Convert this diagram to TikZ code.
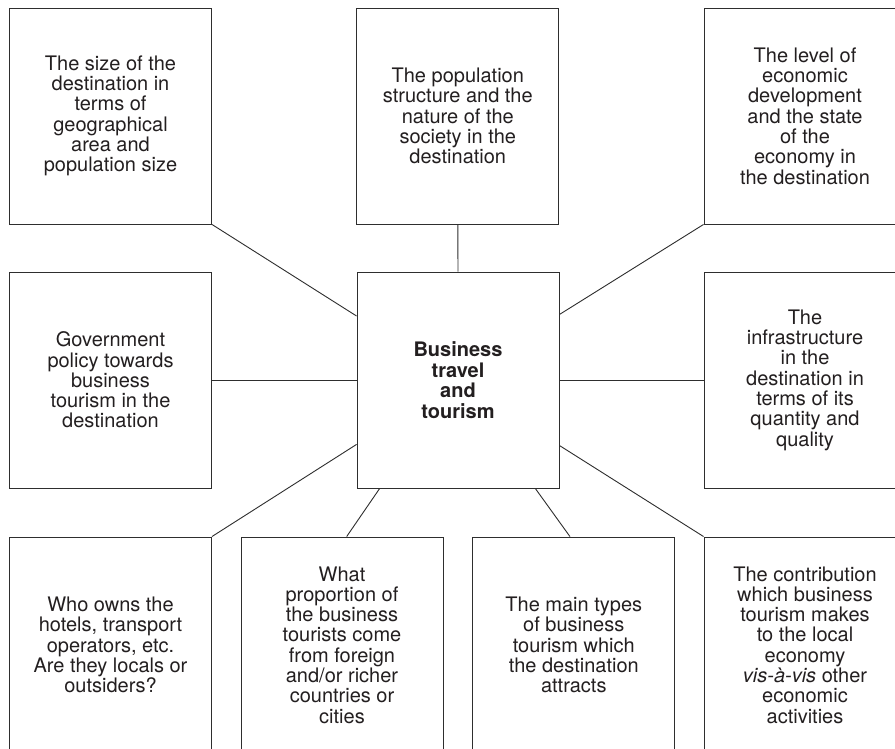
\documentclass[tikz,border=0pt]{standalone}
\usepackage{fontspec}
\setmainfont{TeX Gyre Heros}
\usetikzlibrary{calc}
\definecolor{ink}{HTML}{231F20}
\definecolor{edge}{HTML}{2E2E2E}
\begin{document}
\begin{tikzpicture}[x=1pt,y=-1pt,
  factor/.style={draw=edge, line width=0.9pt, rectangle, minimum width=202pt, minimum height=216pt,
    inner sep=0pt, align=center, text=ink, font=\fontsize{20}{20.3}\selectfont},
  link/.style={draw=edge, line width=0.9pt}]
\useasboundingbox (0,0) rectangle (895,749);
\clip (0,0) rectangle (895,749);
\fill[white] (0,0) rectangle (895,749);

\node[factor] (tl) at (110.5,116) {The size of the\\destination in\\terms of\\geographical\\area and\\population size};
\node[factor] (tm) at (457.8,116) {The population\\structure and the\\nature of the\\society in the\\destination};
\node[factor] (tr) at (805,116) {The level of\\economic\\development\\and the state\\of the\\economy in\\the destination};
\node[factor] (ml) at (110.5,380) {Government\\policy towards\\business\\tourism in the\\destination};
\node[factor, font=\fontsize{20}{20.5}\selectfont\bfseries] (c) at (458,380) {Business\\travel\\and\\tourism};
\node[factor] (mr) at (805,380) {The\\infrastructure\\in the\\destination in\\terms of its\\quantity and\\quality};
\node[factor] (bl) at (110.5,645) {Who owns the\\hotels, transport\\operators, etc.\\Are they locals or\\outsiders?};
\node[factor] (b2) at (342,645) {What\\proportion of\\the business\\tourists come\\from foreign\\and/or richer\\countries or\\cities};
\node[factor] (b3) at (573.8,645) {The main types\\of business\\tourism which\\the destination\\attracts};
\node[factor] (br) at (805,645) {The contribution\\which business\\tourism makes\\to the local\\economy\\\textit{vis-à-vis} other\\economic\\activities};

\draw[link] (tl.south east) -- ($(c.north west)!0.205!(c.south west)$);
\draw[link] (tm.south) -- (c.north);
\draw[link] (tr.south west) -- ($(c.north east)!0.198!(c.south east)$);
\draw[link] (ml.east) -- (c.west);
\draw[link] (mr.west) -- (c.east);
\draw[link] (bl.north east) -- ($(c.north west)!0.797!(c.south west)$);
\draw[link] ($(b2.north west)!0.523!(b2.north east)$) -- ($(c.south west)!0.114!(c.south east)$);
\draw[link] ($(b3.north west)!0.481!(b3.north east)$) -- ($(c.south west)!0.881!(c.south east)$);
\draw[link] (br.north west) -- ($(c.north east)!0.802!(c.south east)$);
\end{tikzpicture}
\end{document}
